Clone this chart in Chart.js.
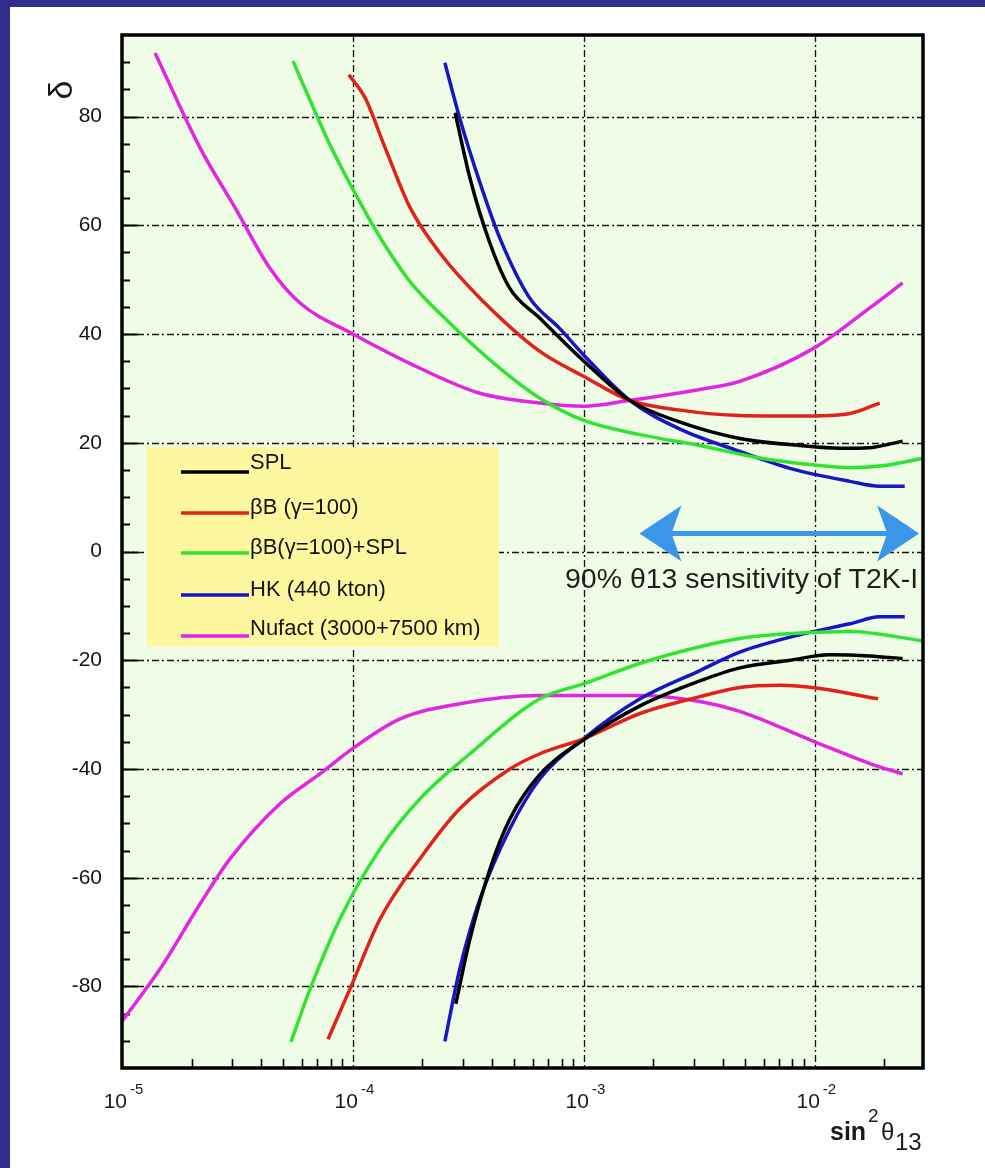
<!DOCTYPE html>
<html>
<head>
<meta charset="utf-8">
<script src="https://cdn.jsdelivr.net/npm/chart.js@4.4.1/dist/chart.umd.min.js"></script>
<style>
    html, body { margin: 0; padding: 0; background: #ffffff; }
    #wrap { position: relative; width: 985px; height: 1168px; overflow: hidden; background: #ffffff; }
    #deltaChart { position: absolute; left: 0; top: 0; }
    #topBar { position: absolute; left: 0; top: 0; width: 985px; height: 7px; background: #302f8a; }
    #leftBar { position: absolute; left: 0; top: 0; width: 10px; height: 1168px; background: #302f8a; }
</style>
</head>
<body>
<div id="wrap">
    <canvas id="deltaChart" width="985" height="1168"></canvas>
    <div id="topBar"></div>
    <div id="leftBar"></div>
</div>
<script>
// sin^2(theta13) (x) and delta in degrees (y)
// each experiment has an upper (delta > 0) and a lower (delta < 0) branch

// SPL (black)
var splUpX = [2.77e-4, 3.21e-4, 3.92e-4, 4.78e-4, 6.45e-4, 1.0e-3, 1.58e-3, 2.61e-3, 4.73e-3, 8.61e-3, 1.28e-2, 1.73e-2, 2.40e-2];
var splUpY = [80.7, 68.7, 56.7, 48.4, 42.9, 35.0, 27.8, 23.8, 20.8, 19.5, 19.0, 19.1, 20.3];
var splLoX = [2.79e-4, 3.21e-4, 3.92e-4, 4.78e-4, 6.45e-4, 1.0e-3, 1.75e-3, 3.18e-3, 4.73e-3, 7.80e-3, 1.16e-2, 1.73e-2, 2.40e-2];
var splLoY = [-83.2, -71.3, -58.4, -49.2, -41.0, -34.6, -28.4, -23.8, -21.4, -20.0, -19.0, -19.2, -19.7];

// beta beam gamma=100 (red)
var bbUpX = [9.6e-5, 1.13e-4, 1.38e-4, 1.77e-4, 2.38e-4, 3.55e-4, 6.45e-4, 1.0e-3, 1.58e-3, 2.61e-3, 4.73e-3, 8.61e-3, 1.42e-2, 1.91e-2];
var bbUpY = [87.7, 83.4, 74.2, 63.2, 54.9, 46.6, 36.8, 32.2, 27.8, 26.0, 25.0, 24.9, 25.4, 27.3];
var bbLoX = [7.80e-5, 9.7e-5, 1.31e-4, 1.95e-4, 2.90e-4, 4.78e-4, 6.45e-4, 1.0e-3, 1.75e-3, 3.18e-3, 4.73e-3, 7.05e-3, 1.05e-2, 1.88e-2];
var bbLoY = [-89.7, -80.5, -67.6, -56.5, -47.3, -40.0, -37.2, -34.4, -29.8, -26.7, -25.0, -24.6, -25.2, -27.1];

// beta beam + SPL (green)
var bbsUpX = [5.50e-5, 6.52e-5, 7.95e-5, 1.0e-4, 1.31e-4, 1.77e-4, 2.63e-4, 4.33e-4, 6.45e-4, 1.0e-3, 1.75e-3, 3.18e-3, 5.78e-3, 9.5e-3, 1.42e-2, 2.01e-2, 2.9e-2];
var bbsUpY = [90.2, 83.0, 74.8, 66.6, 57.8, 49.6, 42.0, 33.7, 28.2, 24.1, 21.5, 19.5, 17.2, 16.0, 15.4, 15.8, 17.1];
var bbsLoX = [5.39e-5, 6.52e-5, 8.78e-5, 1.31e-4, 1.95e-4, 3.21e-4, 6.45e-4, 1.0e-3, 1.93e-3, 4.73e-3, 8.61e-3, 1.42e-2, 2.9e-2];
var bbsLoY = [-90.2, -80.5, -67.6, -54.7, -45.5, -37.2, -27.1, -24.3, -20.0, -16.0, -15.0, -14.7, -16.4];

// HK 440 kton (blue)
var hkUpX = [2.50e-4, 2.90e-4, 3.55e-4, 4.33e-4, 5.83e-4, 7.87e-4, 1.0e-3, 1.58e-3, 2.61e-3, 4.73e-3, 7.80e-3, 1.42e-2, 1.91e-2, 2.45e-2];
var hkUpY = [89.9, 79.7, 67.8, 57.6, 46.6, 41.0, 36.1, 27.8, 22.5, 18.4, 15.3, 12.9, 12.0, 12.0];
var hkLoX = [2.50e-4, 2.90e-4, 3.55e-4, 4.78e-4, 6.45e-4, 1.0e-3, 1.75e-3, 3.18e-3, 4.73e-3, 8.61e-3, 1.42e-2, 1.91e-2, 2.45e-2];
var hkLoY = [-90.1, -76.8, -63.9, -51.0, -41.8, -34.4, -27.1, -21.9, -18.5, -15.3, -13.3, -12.0, -12.0];

// Nufact 3000+7500 km (magenta)
var nfUpX = [1.39e-5, 2.18e-5, 3.09e-5, 4.37e-5, 5.90e-5, 1.0e-4, 1.95e-4, 3.55e-4, 6.45e-4, 1.0e-3, 1.58e-3, 3.18e-3, 4.73e-3, 1.0e-2, 1.73e-2, 2.40e-2];
var nfUpY = [91.7, 74.2, 63.2, 52.1, 45.7, 40.0, 33.7, 29.1, 27.3, 26.7, 27.8, 29.8, 31.3, 37.5, 44.8, 49.4];
var nfLoX = [1.0e-5, 1.46e-5, 2.18e-5, 2.94e-5, 4.83e-5, 7.19e-5, 1.0e-4, 1.60e-4, 2.90e-4, 6.45e-4, 1.75e-3, 3.18e-3, 4.73e-3, 1.0e-2, 1.73e-2, 2.40e-2];
var nfLoY = [-86.4, -76.8, -64.8, -56.5, -46.4, -40.9, -36.2, -30.8, -28.0, -26.5, -26.5, -27.6, -29.4, -35.0, -39.0, -40.9];

var seriesNames = ["SPL", "\u03b2B (\u03b3=100)", "\u03b2B(\u03b3=100)+SPL", "HK (440 kton)", "Nufact (3000+7500 km)"];
var seriesColors = ["#000000", "#e1221a", "#33e333", "#1616c4", "#e324e3"];

// axis ticks
var xDecades = [1e-5, 1e-4, 1e-3, 1e-2];
var xDecadeExps = ["-5", "-4", "-3", "-2"];
var yTickValues = [-80, -60, -40, -20, 0, 20, 40, 60, 80];

// T2K-I sensitivity arrow
var arrowX = [1.74e-3, 2.83e-2];
var arrowY = 3.3;
var arrowText = "90% \u03b813 sensitivity of T2K-I";
var arrowTextY = -6.8;

var FONT = "'Liberation Sans', Arial, Helvetica, sans-serif";

function toPoints(xs, ys) {
    var pts = [];
    for (let i = 0; i < xs.length; i++) {
        pts.push({ x: xs[i], y: ys[i] });
    }
    return pts;
}

var branches = [
    [0, splUpX, splUpY], [0, splLoX, splLoY],
    [1, bbUpX, bbUpY], [1, bbLoX, bbLoY],
    [2, bbsUpX, bbsUpY], [2, bbsLoX, bbsLoY],
    [3, hkUpX, hkUpY], [3, hkLoX, hkLoY],
    [4, nfUpX, nfUpY], [4, nfLoX, nfLoY],
];

var datasets = branches.map(function (b) {
    return {
        label: seriesNames[b[0]],
        data: toPoints(b[1], b[2]),
        borderColor: seriesColors[b[0]],
        backgroundColor: seriesColors[b[0]],
        borderWidth: 3.5,
        pointRadius: 0,
        showLine: true,
        fill: false,
        cubicInterpolationMode: "monotone",
    };
});

function dashLine(ctx, x1, y1, x2, y2) {
    ctx.beginPath();
    ctx.moveTo(x1, y1);
    ctx.lineTo(x2, y2);
    ctx.stroke();
}

var plotDecor = {
    id: "plotDecor",
    beforeDatasetsDraw: function (chart) {
        var ctx = chart.ctx, a = chart.chartArea;
        var xs = chart.scales.x, ys = chart.scales.y;
        ctx.save();
        ctx.fillStyle = "#effde6";
        ctx.fillRect(a.left, a.top, a.right - a.left, a.bottom - a.top);

        // dash-dot grid
        ctx.strokeStyle = "#151515";
        ctx.lineWidth = 1.3;
        ctx.setLineDash([7, 3, 2, 3]);
        xDecades.forEach(function (v) {
            var px = Math.round(xs.getPixelForValue(v)) + 0.5;
            if (px > a.left + 2 && px < a.right - 2) dashLine(ctx, px, a.top, px, a.bottom);
        });
        yTickValues.forEach(function (v) {
            var py = Math.round(ys.getPixelForValue(v)) + 0.5;
            dashLine(ctx, a.left, py, a.right, py);
        });
        ctx.setLineDash([]);

        // ticks on left and bottom axes
        ctx.strokeStyle = "#000";
        ctx.lineWidth = 2;
        for (let v = -90; v <= 90; v += 5) {
            var py = Math.round(ys.getPixelForValue(v)) + 0.5;
            var len = v % 20 === 0 ? 16 : 8;
            dashLine(ctx, a.left, py, a.left + len, py);
        }
        ctx.lineWidth = 1.6;
        xDecades.forEach(function (d) {
            for (let m = 2; m <= 9; m++) {
                var v = m * d;
                if (v >= xs.max) break;
                var px = Math.round(xs.getPixelForValue(v)) + 0.5;
                dashLine(ctx, px, a.bottom, px, a.bottom - 9);
            }
        });
        ctx.restore();
    },
    afterDatasetsDraw: function (chart) {
        var ctx = chart.ctx, a = chart.chartArea;
        var xs = chart.scales.x, ys = chart.scales.y;
        ctx.save();

        // legend box
        var lx = a.left + 25, ly = a.top + 412;
        ctx.fillStyle = "#fdf8a0";
        ctx.fillRect(lx, ly, 352, 200);
        ctx.font = "22px " + FONT;
        ctx.textAlign = "left";
        ctx.textBaseline = "middle";
        var rowY = [16, 61, 101, 143, 182];
        var lineY = [25, 66, 106, 148, 189];
        for (let i = 0; i < seriesNames.length; i++) {
            ctx.strokeStyle = seriesColors[i];
            ctx.lineWidth = 3.5;
            dashLine(ctx, lx + 34, ly + lineY[i], lx + 102, ly + lineY[i]);
            ctx.fillStyle = "#141414";
            ctx.fillText(seriesNames[i], lx + 103, ly + rowY[i]);
        }

        // T2K-I arrow
        var x1 = xs.getPixelForValue(arrowX[0]);
        var x2 = xs.getPixelForValue(arrowX[1]);
        var ay = ys.getPixelForValue(arrowY);
        ctx.fillStyle = "#3b96ea";
        ctx.strokeStyle = "#3b96ea";
        ctx.lineWidth = 5;
        dashLine(ctx, x1 + 25, ay, x2 - 25, ay);
        [[x1, 1], [x2, -1]].forEach(function (h) {
            var tx = h[0], s = h[1];
            ctx.beginPath();
            ctx.moveTo(tx, ay);
            ctx.lineTo(tx + s * 42, ay - 28);
            ctx.lineTo(tx + s * 32, ay);
            ctx.lineTo(tx + s * 42, ay + 28);
            ctx.closePath();
            ctx.fill();
        });
        ctx.fillStyle = "#1e1e1e";
        ctx.font = "28.5px " + FONT;
        ctx.textAlign = "right";
        ctx.textBaseline = "alphabetic";
        ctx.fillText(arrowText, x2 - 1, ys.getPixelForValue(arrowTextY));

        // frame
        ctx.strokeStyle = "#000";
        ctx.lineWidth = 3.5;
        ctx.strokeRect(a.left, a.top, a.right - a.left, a.bottom - a.top);
        ctx.restore();
    },
    afterDraw: function (chart) {
        var ctx = chart.ctx, a = chart.chartArea;
        var xs = chart.scales.x;
        ctx.save();
        ctx.fillStyle = "#1a1a1a";
        ctx.textBaseline = "alphabetic";

        // x labels 10^n
        xDecades.forEach(function (v, i) {
            var px = xs.getPixelForValue(v);
            ctx.font = "21px " + FONT;
            ctx.textAlign = "right";
            ctx.fillText("10", px + 5, a.bottom + 40);
            ctx.font = "15px " + FONT;
            ctx.textAlign = "left";
            ctx.fillText(xDecadeExps[i], px + 8, a.bottom + 26);
        });

        // x title sin^2 theta_13
        ctx.textAlign = "left";
        ctx.font = "bold 25px " + FONT;
        ctx.fillText("sin", a.right - 93, a.bottom + 72);
        ctx.font = "19px " + FONT;
        ctx.fillText("2", a.right - 55, a.bottom + 54);
        ctx.font = "24px " + FONT;
        ctx.fillText("\u03b8", a.right - 42, a.bottom + 72);
        ctx.fillText("13", a.right - 28, a.bottom + 82);

        // y title delta
        ctx.translate(72, 90);
        ctx.rotate(-Math.PI / 2);
        ctx.textAlign = "center";
        ctx.font = "34px " + FONT;
        ctx.fillText("\u03b4", 0, 0);
        ctx.restore();
    },
};

var ctx = document.getElementById("deltaChart").getContext("2d");

var deltaChart = new Chart(ctx, {
    type: "scatter",
    data: { datasets: datasets },
    plugins: [plotDecor],
    options: {
        responsive: false,
        animation: false,
        layout: {
            padding: { left: 0, top: 35, right: 62, bottom: 0 },
        },
        scales: {
            x: {
                type: "logarithmic",
                min: 1e-5,
                max: 0.0294,
                grid: { display: false, drawTicks: false },
                border: { display: false },
                ticks: { display: false },
                afterFit: function (scale) {
                    scale.height = 100;
                },
            },
            y: {
                type: "linear",
                min: -95,
                max: 95,
                grid: { display: false, drawTicks: false },
                border: { display: false },
                afterBuildTicks: function (scale) {
                    scale.ticks = yTickValues.map(function (v) {
                        return { value: v };
                    });
                },
                ticks: {
                    padding: 20,
                    color: "#141414",
                    font: { family: FONT, size: 21 },
                },
                afterFit: function (scale) {
                    scale.width = 122;
                },
            },
        },
        plugins: {
            legend: { display: false },
            tooltip: { enabled: false },
        },
    },
});
</script>
</body>
</html>
